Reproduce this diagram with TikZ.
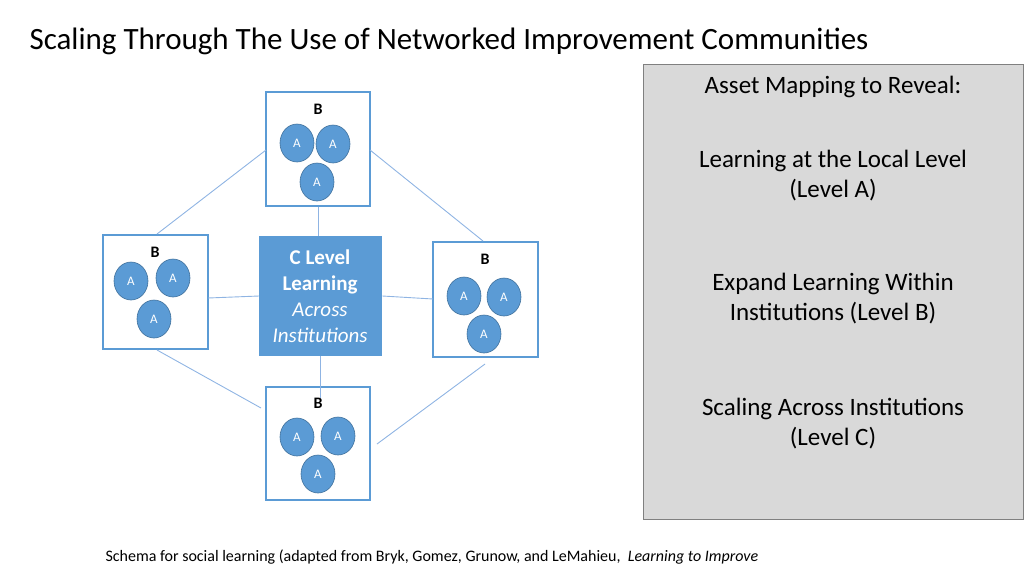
\documentclass[tikz,border=0pt]{standalone}
\usepackage{fontspec}
\setmainfont{Carlito}
\definecolor{blu}{HTML}{5B9BD5}
\definecolor{bluedge}{HTML}{41719C}
\definecolor{lineblu}{HTML}{8FB4E3}
\definecolor{panel}{HTML}{D9D9D9}
\begin{document}
\begin{tikzpicture}[x=1pt,y=-1pt,
  bbox/.style={draw=blu,line width=2pt,fill=white,minimum width=#1},
  anode/.style={ellipse,fill=blu,draw=bluedge,line width=0.6pt,minimum width=34pt,minimum height=38pt,inner sep=0pt,text=white,font=\fontsize{13}{13}\selectfont},
  blabel/.style={font=\bfseries\fontsize{16}{16}\selectfont},
  link/.style={draw=lineblu,line width=0.9pt},
  rtext/.style={font=\fontsize{25}{30}\selectfont,align=center}]
\usetikzlibrary{shapes.geometric}
\useasboundingbox (0,0) rectangle (1024,576);
\node[anchor=west,font=\fontsize{31}{31}\selectfont] (title) at (26,41) {Scaling Through The Use of Networked Improvement Communities};
\node[draw=gray,fill=panel,minimum width=380pt,minimum height=455pt,anchor=north west,line width=0.8pt] (panel) at (643,64) {};
\node[rtext] (p1) at (833,87) {Asset Mapping to Reveal:};
\node[rtext] (p2) at (833,176) {Learning at the Local Level\\(Level A)};
\node[rtext] (p3) at (833,299) {Expand Learning Within\\Institutions (Level B)};
\node[rtext] (p4) at (833,424) {Scaling Across Institutions\\(Level C)};
% boxes
\draw[draw=blu,line width=2pt] (266,92) rectangle (370,206);
\draw[draw=blu,line width=2pt] (103,235) rectangle (208,349);
\draw[draw=blu,line width=2pt] (433,242) rectangle (538,357);
\draw[draw=blu,line width=2pt] (266,387) rectangle (370,500);
\coordinate (tL) at (266,150); \coordinate (tR) at (370,150); \coordinate (tB) at (318,207);
\coordinate (lT) at (157,234); \coordinate (lB) at (157,350); \coordinate (lR) at (208,298);
\coordinate (rT) at (483,241); \coordinate (rB) at (485,364); \coordinate (rL) at (433,299);
\coordinate (bL) at (261,408); \coordinate (bR) at (377,444); \coordinate (bB) at (320,398);
\node[fill=blu,minimum width=123pt,minimum height=120pt,anchor=north west,inner sep=0pt] (c) at (259,236) {};
\node[text=white,align=center,font=\fontsize{21}{26}\selectfont] (ct) at (320,296) {\textbf{C Level}\\\textbf{Learning}\\\textit{Across}\\\textit{Institutions}};
\draw[link] (tL) -- (lT);
\draw[link] (tR) -- (rT);
\draw[link] (lB) -- (bL);
\draw[link] (bR) -- (rB);
\draw[link] (tB) -- (c.north -| tB);
\draw[link] (lR) -- (c.west |- 0,296);
\draw[link] (rL) -- (c.east |- 0,296);
\draw[link] (c.south -| bB) -- (bB);
% labels and circles
\node[blabel] (b1) at (318,109) {B};
\node[anode] (a11) at (297,143) {A}; \node[anode] (a12) at (333,144) {A}; \node[anode] (a13) at (317,182) {A};
\node[blabel] (b2) at (155,252) {B};
\node[anode] (a21) at (131,281) {A}; \node[anode] (a22) at (173,278) {A}; \node[anode] (a23) at (154,319) {A};
\node[blabel] (b3) at (485,259) {B};
\node[anode] (a31) at (464,296) {A}; \node[anode] (a32) at (504,297) {A}; \node[anode] (a33) at (484,334) {A};
\node[blabel] (b4) at (318,403) {B};
\node[anode] (a41) at (297,437) {A}; \node[anode] (a42) at (338,436) {A}; \node[anode] (a43) at (318,474) {A};
\node[anode,draw=none,fill=none] at (-100,-100) {};
\node[anchor=west,font=\fontsize{16}{16}\selectfont] (cap) at (102,557) {Schema for social learning (adapted from Bryk, Gomez, Grunow, and LeMahieu, \ \textit{Learning to Improve}};
\end{tikzpicture}
\end{document}
